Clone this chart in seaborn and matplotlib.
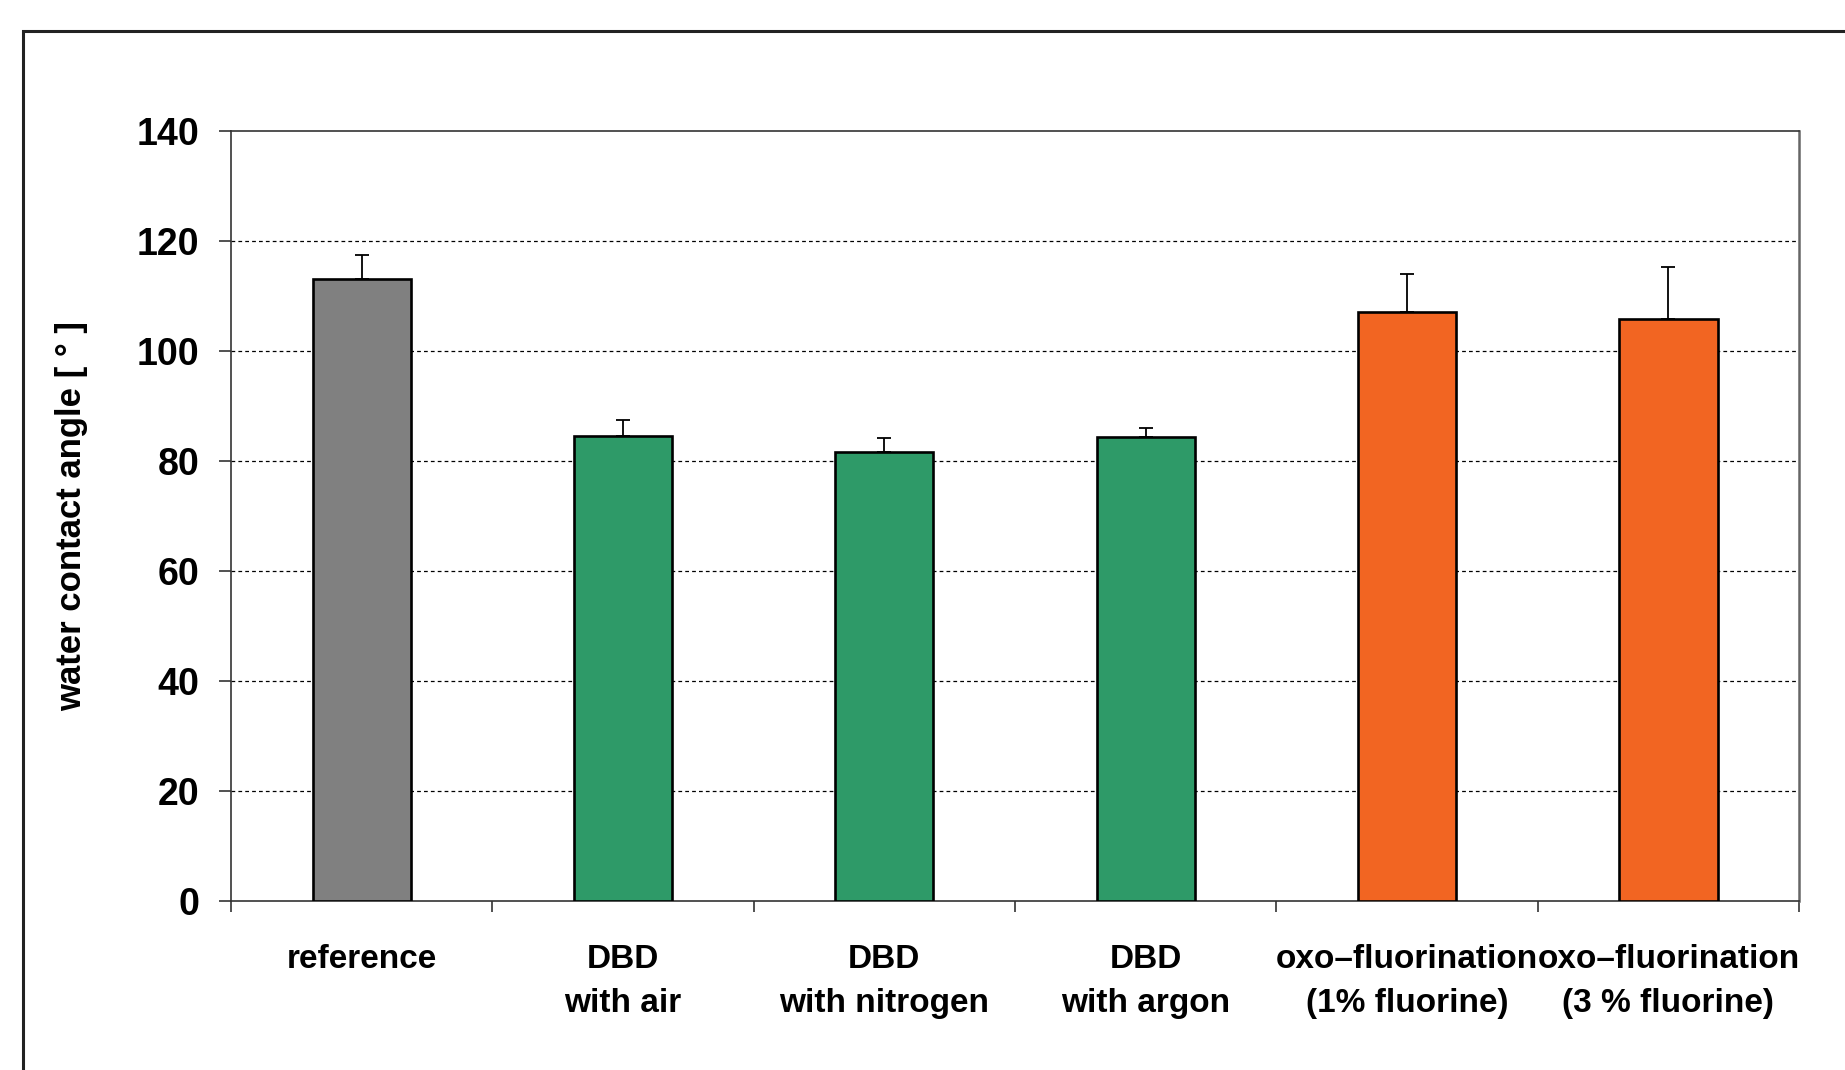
import matplotlib
matplotlib.use("Agg")
import matplotlib.pyplot as plt
import seaborn as sns
import pandas as pd
from matplotlib.patches import Rectangle

# Water contact angle per surface treatment (mean and upper error)
categories = [
    "reference",
    "DBD\nwith air",
    "DBD\nwith nitrogen",
    "DBD\nwith argon",
    "oxo\u2013fluorination\n(1% fluorine)",
    "oxo\u2013fluorination\n(3 % fluorine)",
]
angles = [113.0, 84.6, 81.7, 84.4, 107.1, 105.9]
errors = [4.4, 2.9, 2.5, 1.6, 6.9, 9.4]
colors = ["#808080", "#2E9A68", "#2E9A68", "#2E9A68", "#F26522", "#F26522"]
yticks = [0, 20, 40, 60, 80, 100, 120, 140]

sns.set_theme(style="white")
plt.rcParams["font.family"] = ["Liberation Sans", "DejaVu Sans"]
plt.rcParams["text.color"] = "black"
plt.rcParams["xtick.color"] = "black"
plt.rcParams["ytick.color"] = "black"
plt.rcParams["axes.labelcolor"] = "black"

df = pd.DataFrame({"group": categories, "angle": angles})

fig = plt.figure(figsize=(18.45, 10.70), dpi=100)
ax = fig.add_axes([0.1252, 0.1579, 0.8499, 0.7197])

sns.barplot(
    data=df, x="group", y="angle", hue="group", palette=colors,
    order=categories, hue_order=categories, legend=False,
    width=0.376, edgecolor="black", linewidth=1.9, saturation=1,
    errorbar=None, ax=ax, zorder=3,
)

# upward-only error bars
xpos = range(len(categories))
ax.errorbar(
    xpos, angles, yerr=[[0] * len(errors), errors], fmt="none",
    ecolor="black", elinewidth=1.3, capsize=5, capthick=1.3, zorder=4,
)

ax.set_xlim(-0.5, len(categories) - 0.5)
ax.set_ylim(0, 140)
ax.set_yticks(yticks)
ax.set_yticklabels([str(v) for v in yticks], fontsize=27, fontweight="bold",
                   color="black")
ax.set_xticks([i + 0.5 for i in range(-1, len(categories))], minor=False)
ax.set_xticklabels([])
ax.set_xticks(list(xpos), minor=True)
ax.set_xticklabels(categories, minor=True, fontsize=24, fontweight="bold",
                   linespacing=1.55, color="black")
ax.tick_params(axis="x", which="major", direction="out", length=8, width=1.2,
               color="#333333", bottom=True)
ax.tick_params(axis="x", which="minor", length=0, pad=31, bottom=True)
ax.tick_params(axis="y", direction="out", length=9, width=1.2, color="#333333",
               left=True, pad=14)

for y in yticks[1:-1]:
    ax.axhline(y, color="black", linestyle=(0, (3, 2.5)), linewidth=0.9, zorder=1)

for side in ["left", "bottom", "top"]:
    ax.spines[side].set_color("#333333")
    ax.spines[side].set_linewidth(1.2)
ax.spines["right"].set_color("#666666")
ax.spines["right"].set_linewidth(1.8)

ax.set_xlabel("")
ax.set_ylabel("water contact angle [ ° ]", fontsize=25, fontweight="bold",
              color="black")
ax.yaxis.set_label_coords(-0.0912, 0.5)

# outer frame around the chart area
fig.patches.append(Rectangle((23 / 1845, -0.1), 1.2, 1 - 31 / 1070 + 0.1,
                             transform=fig.transFigure, fill=False,
                             edgecolor="#222222", linewidth=2.2))

fig.savefig("out.png", dpi=100, facecolor="white")
